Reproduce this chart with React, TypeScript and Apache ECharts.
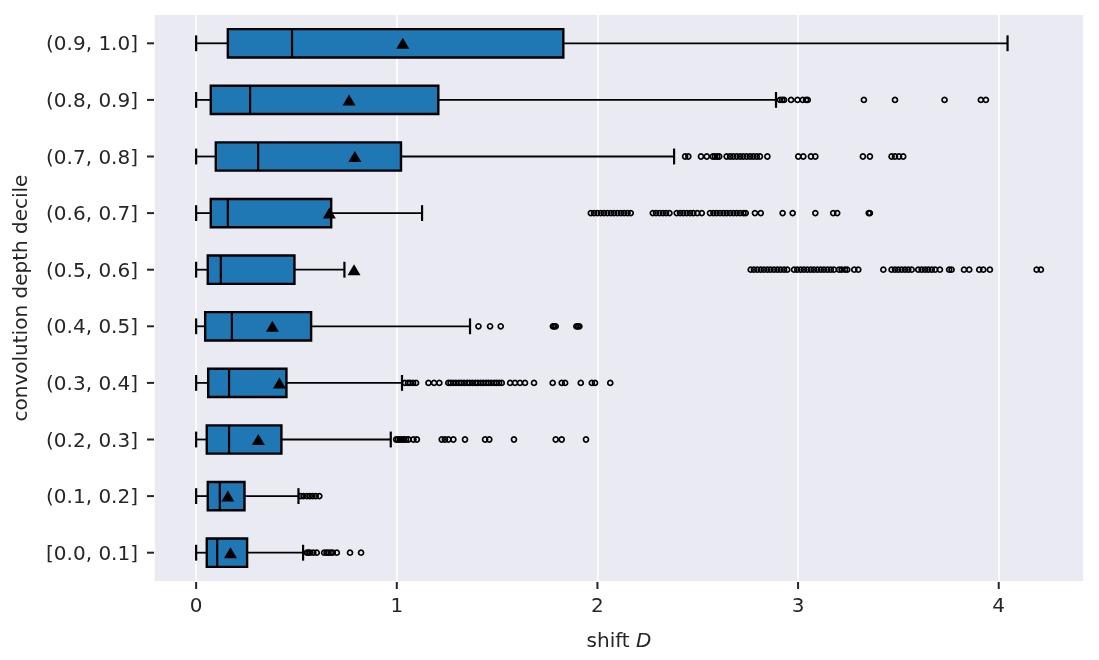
import React, { useEffect, useRef } from "react";
import * as echarts from "echarts";

const categories = [
  "[0.0, 0.1]", "(0.1, 0.2]", "(0.2, 0.3]", "(0.3, 0.4]", "(0.4, 0.5]",
  "(0.5, 0.6]", "(0.6, 0.7]", "(0.7, 0.8]", "(0.8, 0.9]", "(0.9, 1.0]",
];

const whiskerLow = [0, 0, 0, 0, 0, 0, 0, 0, 0, 0];
const q1 = [0.053, 0.058, 0.053, 0.06, 0.045, 0.058, 0.073, 0.098, 0.073, 0.158];
const median = [0.105, 0.118, 0.164, 0.164, 0.178, 0.123, 0.158, 0.309, 0.269, 0.478];
const q3 = [0.254, 0.241, 0.425, 0.45, 0.573, 0.49, 0.673, 1.021, 1.207, 1.83];
const whiskerHigh = [0.533, 0.51, 0.97, 1.026, 1.365, 0.739, 1.126, 2.382, 2.89, 4.044];
const means = [0.171, 0.158, 0.31, 0.415, 0.38, 0.787, 0.664, 0.791, 0.762, 1.03];

const outliers0 = [0.552, 0.56, 0.568, 0.584, 0.601, 0.638, 0.65, 0.659, 0.671, 0.681, 0.701, 0.767, 0.822];
const outliers1 = [0.522, 0.535, 0.552, 0.566, 0.58, 0.596, 0.614];
const outliers2 = [0.997, 1.006, 1.016, 1.026, 1.036, 1.046, 1.058, 1.083, 1.1, 1.224, 1.24, 1.257, 1.282, 1.34, 1.44, 1.461, 1.584, 1.792, 1.822, 1.943];
const outliers3 = [1.041, 1.056, 1.066, 1.081, 1.096, 1.158, 1.186, 1.212, 1.257, 1.268, 1.281, 1.295, 1.31, 1.322, 1.336, 1.351, 1.363, 1.377, 1.392, 1.404, 1.418, 1.431, 1.445, 1.457, 1.47, 1.485, 1.497, 1.51, 1.523, 1.565, 1.589, 1.614, 1.639, 1.684, 1.777, 1.822, 1.839, 1.917, 1.972, 1.988, 2.064];
const outliers4 = [1.407, 1.465, 1.518, 1.778, 1.785, 1.792, 1.895, 1.902, 1.91];
const outliers5 = [2.764, 2.78, 2.797, 2.814, 2.83, 2.847, 2.863, 2.88, 2.897, 2.913, 2.93, 2.946, 2.98, 2.996, 3.013, 3.029, 3.046, 3.063, 3.079, 3.096, 3.113, 3.129, 3.146, 3.163, 3.179, 3.204, 3.217, 3.234, 3.245, 3.28, 3.3, 3.425, 3.466, 3.483, 3.499, 3.516, 3.533, 3.549, 3.566, 3.599, 3.616, 3.633, 3.649, 3.666, 3.683, 3.707, 3.753, 3.765, 3.827, 3.853, 3.903, 3.923, 3.956, 4.189, 4.21];
const outliers6 = [1.967, 1.983, 2.0, 2.017, 2.033, 2.05, 2.067, 2.083, 2.1, 2.117, 2.133, 2.15, 2.166, 2.276, 2.292, 2.309, 2.326, 2.342, 2.359, 2.395, 2.412, 2.428, 2.445, 2.462, 2.478, 2.498, 2.52, 2.561, 2.578, 2.594, 2.611, 2.628, 2.644, 2.661, 2.678, 2.694, 2.711, 2.728, 2.739, 2.785, 2.814, 2.923, 2.973, 3.086, 3.175, 3.195, 3.352, 3.358];
const outliers7 = [2.437, 2.453, 2.516, 2.545, 2.575, 2.586, 2.597, 2.607, 2.644, 2.661, 2.677, 2.694, 2.711, 2.727, 2.744, 2.761, 2.777, 2.794, 2.81, 2.847, 3.001, 3.026, 3.064, 3.086, 3.323, 3.358, 3.466, 3.483, 3.503, 3.524];
const outliers8 = [2.91, 2.921, 2.93, 2.965, 2.997, 3.023, 3.04, 3.048, 3.328, 3.483, 3.73, 3.911, 3.936];
const outliers9: number[] = [];

const xTicks = [0, 1, 2, 3, 4];
const xMin = -0.21;
const xMax = 4.425;

const FONT = "'DejaVu Sans', sans-serif";
const TEXT = "#262626";
const TICK_LEN = 7;
const GRID = { left: 154, right: 15, top: 15, bottom: 79 };
const W = 1099;
const H = 660;

export default function App() {
  const ref = useRef<HTMLDivElement>(null);
  useEffect(() => {
    if (!ref.current) return;
    const chart = echarts.init(ref.current, null, { renderer: "svg" });
    const allOutliers = [outliers0, outliers1, outliers2, outliers3, outliers4, outliers5, outliers6, outliers7, outliers8, outliers9];
    const boxData = categories.map((_, i) => [i, whiskerLow[i], q1[i], median[i], q3[i], whiskerHigh[i]]);
    const meanData = categories.map((_, i) => [means[i], i]);
    const outlierData: number[][] = [];
    allOutliers.forEach((arr, i) => arr.forEach((v) => outlierData.push([v, i])));
    const yTickData = categories.map((_, i) => [xMin, i]);
    const xTickData = xTicks.map((v) => [v, 0]);

    chart.setOption({
      animation: false,
      textStyle: { fontFamily: FONT },
      grid: {
        ...GRID,
        show: true,
        backgroundColor: "#EAEAF2",
        borderWidth: 0,
      },
      xAxis: {
        type: "value",
        min: xMin,
        max: xMax,
        name: "shift {i|D}",
        nameLocation: "middle",
        nameGap: 49,
        nameTextStyle: {
          fontFamily: FONT,
          fontSize: 20,
          color: TEXT,
          rich: { i: { fontStyle: "italic", fontFamily: FONT, fontSize: 20, color: TEXT } },
        },
        axisLine: { show: false, onZero: false },
        axisTick: { show: false },
        axisLabel: {
          customValues: xTicks,
          fontFamily: FONT,
          fontSize: 20,
          color: TEXT,
          margin: 14,
        },
        splitLine: { show: true, lineStyle: { color: "#ffffff", width: 1.6 } },
      },
      yAxis: {
        type: "category",
        data: categories,
        name: "convolution depth decile",
        nameLocation: "middle",
        nameRotate: 90,
        nameGap: 124,
        nameTextStyle: { fontFamily: FONT, fontSize: 20, color: TEXT },
        axisLine: { show: false, onZero: false },
        axisTick: { show: false },
        axisLabel: { fontFamily: FONT, fontSize: 20, color: TEXT, margin: 16 },
        splitLine: { show: false },
      },
      series: [
        {
          type: "custom",
          data: boxData,
          encode: { x: [1, 2, 3, 4, 5], y: 0 },
          z: 2,
          renderItem: (params: any, api: any) => {
            const cat = api.value(0);
            const pLow = api.coord([api.value(1), cat]);
            const pQ1 = api.coord([api.value(2), cat]);
            const pMed = api.coord([api.value(3), cat]);
            const pQ3 = api.coord([api.value(4), cat]);
            const pHigh = api.coord([api.value(5), cat]);
            const band = api.size([0, 1])[1];
            const boxH = band * 0.5;
            const yc = pMed[1];
            const capH = boxH * 0.28;
            const stroke = { stroke: "#000", lineWidth: 1.8, fill: null };
            return {
              type: "group",
              children: [
                { type: "line", shape: { x1: pLow[0], y1: yc, x2: pQ1[0], y2: yc }, style: stroke },
                { type: "line", shape: { x1: pQ3[0], y1: yc, x2: pHigh[0], y2: yc }, style: stroke },
                { type: "line", shape: { x1: pLow[0], y1: yc - capH, x2: pLow[0], y2: yc + capH }, style: { ...stroke, lineWidth: 2.2 } },
                { type: "line", shape: { x1: pHigh[0], y1: yc - capH, x2: pHigh[0], y2: yc + capH }, style: { ...stroke, lineWidth: 2.2 } },
                {
                  type: "rect",
                  shape: { x: pQ1[0], y: yc - boxH / 2, width: pQ3[0] - pQ1[0], height: boxH },
                  style: { fill: "#1f77b4", stroke: "#000", lineWidth: 2.4 },
                },
                { type: "line", shape: { x1: pMed[0], y1: yc - boxH / 2, x2: pMed[0], y2: yc + boxH / 2 }, style: { ...stroke, lineWidth: 2.2 } },
              ],
            };
          },
        },
        {
          // y tick marks: drawn leftward from the plot's left edge (x = xMin)
          type: "custom",
          data: yTickData,
          encode: { x: 0, y: 1 },
          clip: false,
          silent: true,
          z: 50,
          renderItem: (params: any, api: any) => {
            const p = api.coord([api.value(0), api.value(1)]);
            return {
              type: "rect",
              shape: { x: p[0] - TICK_LEN, y: p[1] - 1, width: TICK_LEN, height: 2 },
              style: { fill: TEXT },
            };
          },
        },
        {
          // x tick marks: drawn downward from the plot's bottom edge
          type: "custom",
          data: xTickData,
          encode: { x: 0, y: 1 },
          clip: false,
          silent: true,
          z: 50,
          renderItem: (params: any, api: any) => {
            const p = api.coord([api.value(0), api.value(1)]);
            const bottom = p[1] + api.size([0, 1])[1] / 2;
            return {
              type: "rect",
              shape: { x: p[0] - 1, y: bottom + 1, width: 2, height: TICK_LEN },
              style: { fill: TEXT },
            };
          },
        },
        {
          type: "scatter",
          data: meanData,
          symbol: "triangle",
          symbolSize: [13, 11],
          itemStyle: { color: "#000", opacity: 1 },
          z: 4,
        },
        {
          type: "scatter",
          data: outlierData,
          symbol: "circle",
          symbolSize: 5,
          itemStyle: { color: "rgba(0,0,0,0)", borderColor: "#000", borderWidth: 1.7, opacity: 1 },
          z: 3,
        },
      ],
    });

    return () => chart.dispose();
  }, []);
  return <div ref={ref} style={{ position: "fixed", left: 0, top: 0, width: W, height: H }} />;
}
